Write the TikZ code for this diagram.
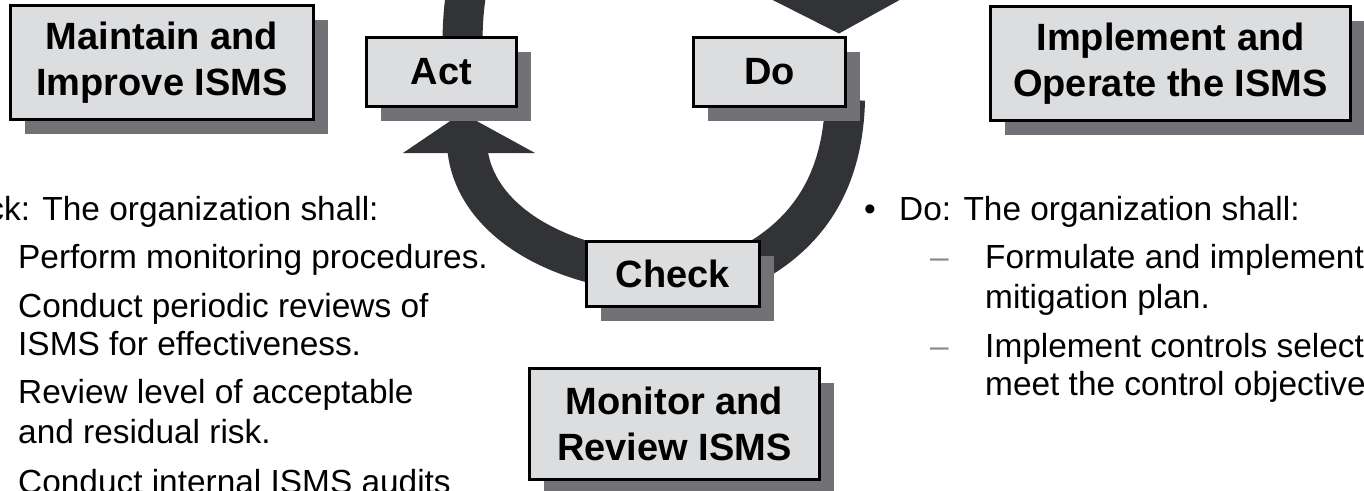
\documentclass[tikz,border=0pt]{standalone}
\usepackage{fontspec}
\setmainfont{Liberation Sans}
\usetikzlibrary{shadows,backgrounds,calc}
\definecolor{boxfill}{RGB}{220,221,223}
\definecolor{shadowgray}{RGB}{114,114,118}
\definecolor{bandgray}{RGB}{50,51,54}
\definecolor{dashgray}{RGB}{140,140,140}
\tikzset{
  phasebox/.style={draw=black, line width=3pt, fill=boxfill, inner sep=0pt, align=center,
    font=\fontsize{38}{46}\selectfont\bfseries,
    drop shadow={shadow xshift=14pt, shadow yshift=-14pt, fill=shadowgray, opacity=1}},
  band/.style={draw=bandgray, line width=40pt},
  head/.style={fill=bandgray},
  bodytext/.style={anchor=base west, inner sep=0pt, font=\fontsize{33.4}{40}\selectfont},
  dashmark/.style={bodytext, text=dashgray},
}
\begin{document}
\begin{tikzpicture}[x=1pt, y=-1pt]
\useasboundingbox (0,0) rectangle (1364,490);
\begin{scope}
\clip (0,0) rectangle (1364,490);
% phase boxes
\node[phasebox, minimum width=303pt, minimum height=114pt] (maintain) at (162,62.5) {Maintain and\\Improve ISMS};
\node[phasebox, minimum width=150pt, minimum height=69pt] (act) at (441.5,72) {Act};
\node[phasebox, minimum width=152pt, minimum height=69pt] (do) at (769.5,72) {Do};
\node[phasebox, minimum width=360pt, minimum height=114pt] (implement) at (1170.5,63.5) {Implement and\\Operate the ISMS};
\node[phasebox, minimum width=173pt, minimum height=65pt] (check) at (673,274) {Check};
\node[phasebox, minimum width=290pt, minimum height=111pt] (monitor) at (674.5,424) {Monitor and\\Review ISMS};

% left text
\node[bodytext] (lhead) at (-74,220) {Check: The organization shall:};
\node[bodytext] (l1) at (18,268) {Perform monitoring procedures.};
\node[bodytext] (l2a) at (18,317) {Conduct periodic reviews of};
\node[bodytext] (l2b) at (18,355) {ISMS for effectiveness.};
\node[bodytext] (l3a) at (18,403) {Review level of acceptable};
\node[bodytext] (l3b) at (18,443) {and residual risk.};
\node[bodytext] (l4) at (18,493) {Conduct internal ISMS audits};

% right text
\node[bodytext] (rbullet) at (864,220) {•};
\node[bodytext] (rhead) at (899,220) {Do: The organization shall:};
\node[dashmark] (rdash1) at (930,268) {–};
\node[bodytext] (r1a) at (985,268) {Formulate and implement};
\node[bodytext] (r1b) at (985,308) {mitigation plan.};
\node[dashmark] (rdash2) at (930,357) {–};
\node[bodytext] (r2a) at (985,357) {Implement controls select};
\node[bodytext] (r2b) at (985,395) {meet the control objective};
\end{scope}

% cycle arrows behind the boxes
\begin{scope}[on background layer]
\clip (0,0) rectangle (1364,490);
\coordinate (plan) at (655,-115);
% Check -> Act
\coordinate (actbase) at (467,145);
\draw[band] (check.center) .. controls (560,272) and (472,220) .. (actbase);
\fill[head] ($(actbase)+(-64,8)$) -- ($(actbase)+(68,8)$) -- ($(actbase)+(-5,-32)$) -- cycle;
% Act -> Plan (top, leaves the picture)
\draw[band] ($(act.north)+(21,10)$) .. controls (462,-110) and (540,-115) .. (plan);
% Plan -> Do
\coordinate (dotip) at ($(do.north)+(69.5,-2.5)$);
\draw[band] (plan) .. controls (760,-112) and (836,-70) .. ($(dotip)+(-2,-45)$);
\fill[head] (dotip) -- +(-93,-47) -- +(85,-47) -- cycle;
% Do -> Check
\draw[band] ($(do.south east)+(-2,-8)$) .. controls (843,185) and (805,242) .. ($(check.center)+(57,0)$);
\end{scope}
\end{tikzpicture}
\end{document}
